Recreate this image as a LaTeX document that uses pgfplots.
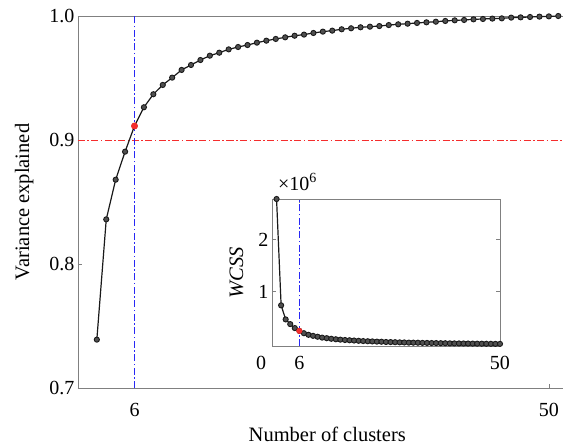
\documentclass[border=0pt]{standalone}
\usepackage{fontspec}
\setmainfont{Liberation Serif}
\usepackage{pgfplots}
\usepackage{pgfplotstable}
\pgfplotsset{compat=1.18}
\definecolor{axgray}{RGB}{128,128,128}
\definecolor{refred}{RGB}{245,45,45}
\definecolor{refblue}{RGB}{40,40,245}
\definecolor{mkfill}{RGB}{80,80,80}

% variance explained vs number of clusters
\pgfplotstableread{
k ve
2 0.739
3 0.836
4 0.868
5 0.8906
6 0.9113
7 0.9264
8 0.9369
9 0.9444
10 0.9503
11 0.9565
12 0.9605
13 0.9645
14 0.9680
15 0.9704
16 0.9731
17 0.9750
18 0.9766
19 0.9785
20 0.9801
21 0.9815
22 0.9828
23 0.9841
24 0.9850
25 0.9863
26 0.9874
27 0.9882
28 0.9893
29 0.9901
30 0.9909
31 0.9914
32 0.9919
33 0.9927
34 0.9933
35 0.9938
36 0.9944
37 0.9949
38 0.9954
39 0.9960
40 0.9965
41 0.9968
42 0.9973
43 0.9976
44 0.9979
45 0.9981
46 0.9987
47 0.9989
48 0.9992
49 0.9995
50 0.9997
51 1.0000
}\vetable

% within-cluster sum of squares (x10^6)
\pgfplotstableread{
k wcss
1 2.78
2 0.74
3 0.47
4 0.38
5 0.304
6 0.250
7 0.205
8 0.175
9 0.155
10 0.138
11 0.121
12 0.110
13 0.099
14 0.089
15 0.082
16 0.075
17 0.070
18 0.065
19 0.060
20 0.055
21 0.051
22 0.048
23 0.044
24 0.042
25 0.037
26 0.035
27 0.033
28 0.030
29 0.028
30 0.025
31 0.024
32 0.023
33 0.020
34 0.019
35 0.017
36 0.016
37 0.014
38 0.013
39 0.011
40 0.010
41 0.009
42 0.008
43 0.007
44 0.006
45 0.005
46 0.004
47 0.003
48 0.002
49 0.001
50 0.001
}\wcsstable

\begin{document}
\begin{tikzpicture}[font=\fontsize{20}{24}\selectfont]
\tikzset{dashdot/.style={line width=1pt, dash pattern=on 7pt off 2.5pt on 1.5pt off 2.5pt}}
\pgfplotsset{
  curvestyle/.style={black!90, line width=1.2pt, mark=*, mark size=2.6pt,
    mark options={fill=mkfill, draw=black!90, line width=0.9pt, solid}},
}
\begin{axis}[
  at={(0,0)}, anchor=south west,
  scale only axis, width=485pt, height=372pt,
  xmin=0, xmax=51.5, ymin=0.7, ymax=1.0,
  axis x line*=bottom, axis y line*=left,
  axis line style={axgray, line width=0.6pt},
  xtick={6,50}, ytick={0.7,0.8,0.9,1.0},
  tick align=inside, major tick style={axgray, line width=0.6pt},
  /pgf/number format/assume math mode=true,
  yticklabel style={/pgf/number format/.cd, fixed, fixed zerofill, precision=1},
  xticklabel style={yshift=-12pt},
  tick label style={font=\fontsize{20}{24}\selectfont},
  label style={font=\fontsize{20.5}{24}\selectfont},
  xlabel={Number of clusters}, ylabel={Variance explained},
  xlabel style={at={(axis description cs:0.514,-0.1425)}, anchor=base},
  ylabel style={at={(axis description cs:-0.101,0.5)}, anchor=base},
  clip=false,
]
  \draw[axgray, line width=0.6pt] (rel axis cs:0,1) -- (rel axis cs:1,1);
  \addplot[color=refred, dashdot] coordinates {(0,0.9) (51.5,0.9)};
  \addplot[color=refblue, dashdot] coordinates {(6,0.7) (6,1.0)};
  \addplot[curvestyle] table[x=k, y=ve] {\vetable};
  \addplot[only marks, mark=*, mark size=3.2pt, refred] coordinates {(6,0.9113)};
\end{axis}

\begin{axis}[
  at={(194pt,42pt)}, anchor=south west,
  scale only axis, width=228pt, height=147pt,
  xmin=0, xmax=50, ymin=-0.04, ymax=2.78,
  axis background/.style={fill=white},
  axis line style={axgray, line width=0.6pt},
  xtick={6,50}, ytick={1,2},
  tick align=inside, major tick style={axgray, line width=0.6pt},
  scaled ticks=false,
  /pgf/number format/assume math mode=true,
  xticklabel style={yshift=-7pt},
  tick label style={font=\fontsize{20}{24}\selectfont},
  label style={font=\fontsize{20.5}{24}\selectfont},
  ylabel={\textit{WCSS}},
  ylabel style={at={(axis description cs:-0.127,0.5)}, anchor=base},
  clip=false,
]
  \addplot[color=refblue, line width=1.2pt, dash pattern=on 7pt off 2.5pt on 1.5pt off 2.5pt] coordinates {(6,-0.04) (6,2.78)};
  \addplot[curvestyle] table[x=k, y=wcss] {\wcsstable};
  \addplot[only marks, mark=*, mark size=2.8pt, refred] coordinates {(6,0.250)};
  \node[anchor=base west, inner sep=0pt] at ([xshift=6pt, yshift=9pt]axis description cs:0,1) {×10\textsuperscript{6}};
  \node[anchor=north, yshift=-7pt] at (axis cs:-2.4,-0.04) {0};
\end{axis}

\pgfresetboundingbox
\path[use as bounding box] (-78pt,-57pt) rectangle (485pt,388pt);
\end{tikzpicture}
\end{document}
